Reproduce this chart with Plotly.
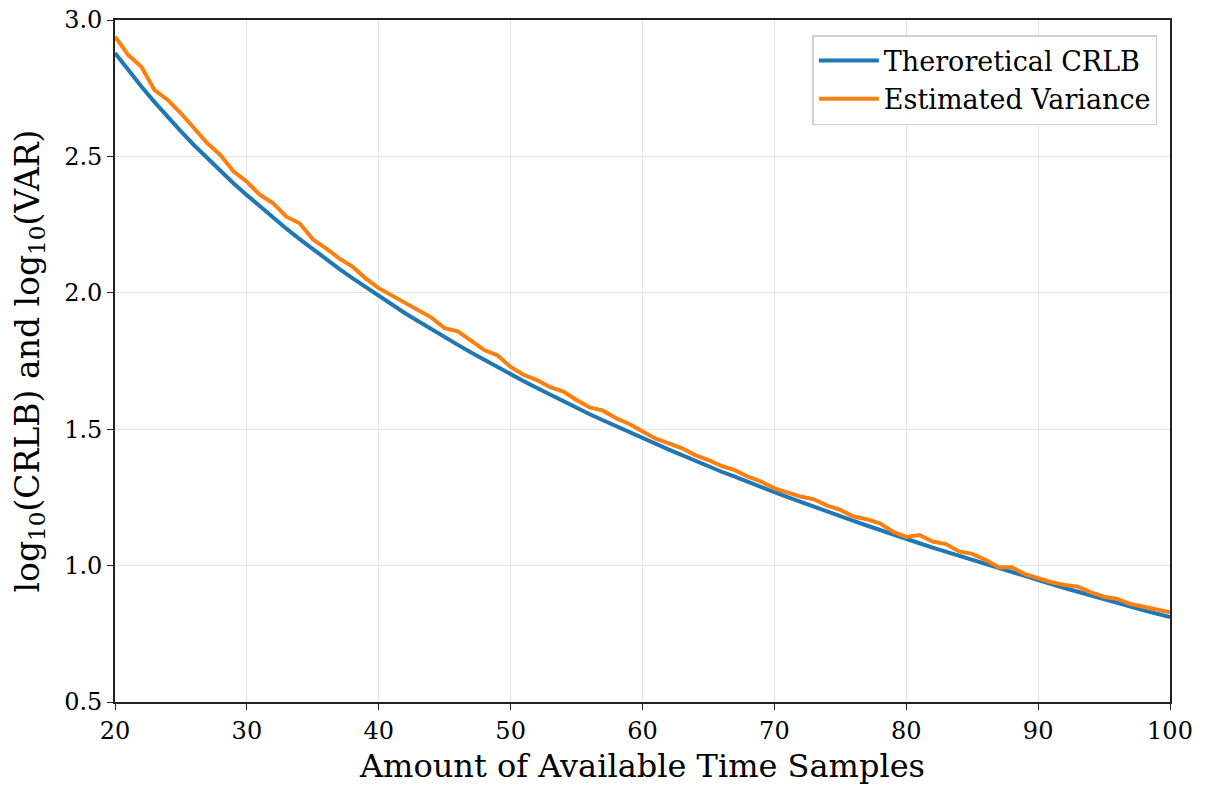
import plotly.graph_objects as go

samples = list(range(20, 101))

crlb = [2.879, 2.815, 2.756, 2.699, 2.644, 2.592, 2.541, 2.493, 2.447, 2.401,
        2.358, 2.316, 2.275, 2.235, 2.197, 2.160, 2.123, 2.088, 2.054, 2.021,
        1.988, 1.957, 1.925, 1.896, 1.866, 1.836, 1.809, 1.781, 1.754, 1.727,
        1.701, 1.676, 1.651, 1.626, 1.603, 1.579, 1.555, 1.533, 1.511, 1.488,
        1.468, 1.446, 1.425, 1.405, 1.384, 1.364, 1.344, 1.326, 1.306, 1.287,
        1.269, 1.251, 1.233, 1.215, 1.198, 1.181, 1.164, 1.147, 1.130, 1.114,
        1.098, 1.082, 1.066, 1.051, 1.035, 1.020, 1.004, 0.989, 0.976, 0.961,
        0.946, 0.932, 0.918, 0.905, 0.891, 0.877, 0.863, 0.850, 0.836, 0.824,
        0.811]

est_var = [2.939, 2.872, 2.829, 2.743, 2.707, 2.658, 2.603, 2.548, 2.505, 2.444,
           2.407, 2.359, 2.328, 2.279, 2.255, 2.196, 2.163, 2.126, 2.096, 2.053,
           2.017, 1.990, 1.967, 1.940, 1.909, 1.870, 1.859, 1.825, 1.790, 1.771,
           1.728, 1.699, 1.680, 1.654, 1.638, 1.607, 1.580, 1.568, 1.540, 1.519,
           1.490, 1.465, 1.448, 1.430, 1.405, 1.387, 1.365, 1.350, 1.326, 1.308,
           1.283, 1.267, 1.253, 1.243, 1.220, 1.204, 1.180, 1.170, 1.155, 1.124,
           1.105, 1.112, 1.088, 1.079, 1.052, 1.043, 1.021, 0.994, 0.994, 0.969,
           0.953, 0.939, 0.929, 0.923, 0.902, 0.886, 0.878, 0.859, 0.849, 0.839,
           0.829]

FONT = "DejaVu Serif"

fig = go.Figure()
fig.add_trace(go.Scatter(x=samples, y=crlb, mode="lines", name="Theroretical CRLB",
                         line=dict(color="#1f77b4", width=4)))
fig.add_trace(go.Scatter(x=samples, y=est_var, mode="lines", name="Estimated Variance",
                         line=dict(color="#ff7f0e", width=4)))

axis_common = dict(showline=True, linecolor="#222222", linewidth=1.8, mirror=True,
                   ticks="outside", ticklen=6, tickwidth=1.4, tickcolor="#222222",
                   showgrid=True, gridcolor="#e6e6e6", gridwidth=1, zeroline=False,
                   automargin=False,
                   tickfont=dict(family=FONT, size=24, color="black"))

fig.update_layout(
    width=1208, height=785,
    margin=dict(l=115, r=38, t=20, b=83),
    paper_bgcolor="white", plot_bgcolor="white",
    font=dict(family=FONT, color="black"),
    xaxis=dict(range=[20, 100], dtick=10, tick0=20,
               title=dict(text="Amount of Available Time Samples",
                          font=dict(family=FONT, size=32)),
               **axis_common),
    yaxis=dict(range=[0.5, 3.0], dtick=0.5, tick0=0.5, tickformat=".1f",
               title=dict(text="log<sub>10</sub>(CRLB) and log<sub>10</sub>(VAR)",
                          font=dict(family=FONT, size=33)),
               **axis_common),
    legend=dict(x=0.988, y=0.978, xanchor="right", yanchor="top",
                bgcolor="rgba(255,255,255,0.85)", bordercolor="#d0d0d0", borderwidth=1.5,
                font=dict(family=FONT, size=27), itemwidth=60,
                tracegroupgap=4),
    showlegend=True,
)

fig.write_html("out.html")
